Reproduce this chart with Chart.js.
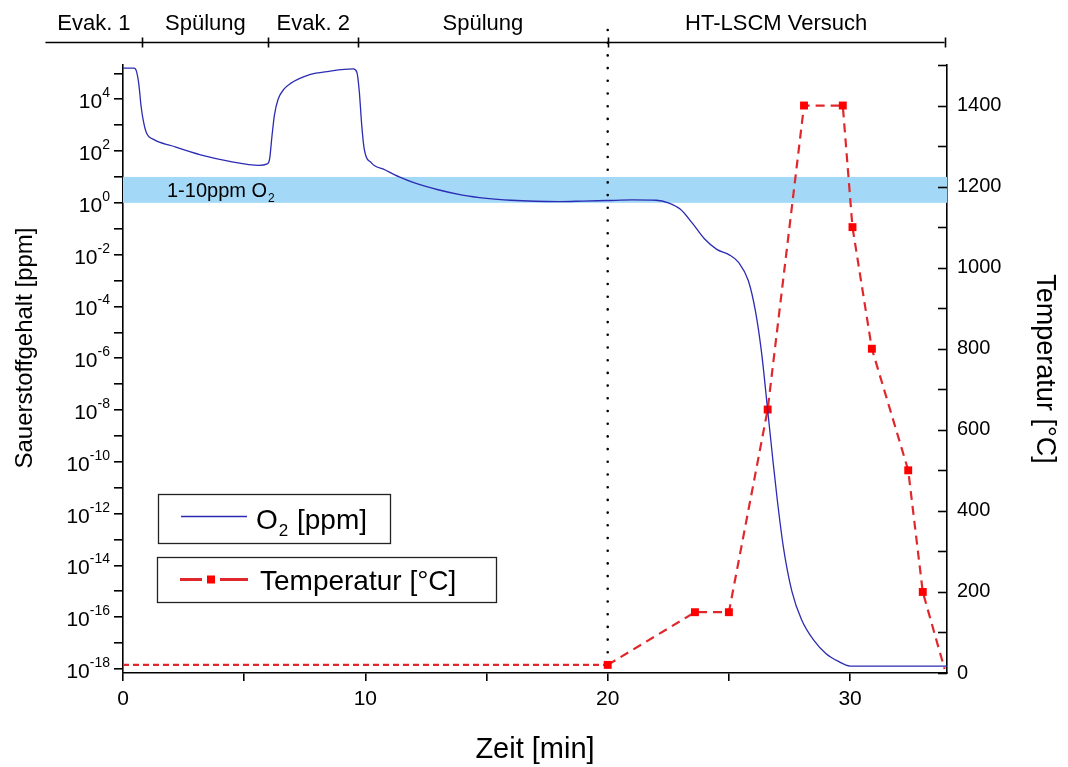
<!DOCTYPE html>
<html><head><meta charset="utf-8">
<script src="https://cdn.jsdelivr.net/npm/chart.js@4.4.1/dist/chart.umd.min.js"></script>
<style>html,body{margin:0;padding:0;background:#fff}#wrap{width:1068px;height:767px}</style>
</head><body><div id="wrap"><canvas id="c" width="1068" height="767"></canvas></div>
<script>
// ---------- data ----------
const o2Time = [0, 0.45, 0.55, 0.65, 0.75, 0.85, 0.97, 1.3, 2.0, 3.2, 4.4, 5.6, 5.95, 6.05, 6.15, 6.25, 6.4, 6.65, 6.9, 7.7, 8.5, 9.5, 9.65, 9.75, 9.85, 9.95, 10.25, 10.8, 11.4, 12.0, 13.0, 14.0, 15.0, 16.0, 17.0, 18.0, 19.0, 20.0, 21.0, 22.0, 22.5, 23.0, 23.5, 24.0, 24.5, 25.0, 25.4, 25.8, 26.1, 26.35, 26.6, 26.8, 27.0, 27.25, 27.6, 28.0, 28.5, 29.0, 29.5, 30.0, 34.0];
const o2Ppm = [1.6e5, 1.6e5, 1.25e5, 4.0e4, 5.0e3, 1.3e3, 5.0e2, 2.7e2, 1.6e2, 71, 40, 28, 32, 50, 400, 2.5e3, 1.0e4, 2.5e4, 4.0e4, 8.9e4, 1.2e5, 1.48e5, 1.1e5, 2.0e4, 1.0e3, 126, 35, 19, 10, 6.0, 3.2, 2.0, 1.5, 1.26, 1.15, 1.12, 1.17, 1.23, 1.29, 1.26, 1.0, 0.56, 0.16, 0.04, 0.016, 0.01, 0.005, 1e-3, 6.3e-5, 1.6e-6, 1.0e-8, 1.6e-10, 3.2e-12, 5e-14, 1e-15, 8e-17, 1.3e-17, 4e-18, 2e-18, 1.3e-18, 1.3e-18];

const tempTime = [0, 20, 23.6, 25.0, 26.6, 28.1, 29.7, 30.1, 30.9, 32.4, 33.0, 33.9];
const tempC    = [20, 20, 150, 150, 650, 1400, 1400, 1100, 800, 500, 200, 10];
const tempHasMarker = [false, true, true, true, true, true, true, true, true, true, true, false];

const phaseBounds = [-3.2, 0.8, 6.0, 9.7, 20, 33.9];
const phaseLabels = ['Evak. 1', 'Spülung', 'Evak. 2', 'Spülung', 'HT-LSCM Versuch'];
const testStart = 20;
const bandRange = [1, 10];
const bandLabel = '1-10ppm O₂';

const xTicks = [0, 5, 10, 15, 20, 25, 30];
const xLabelTicks = [0, 10, 20, 30];
const o2Decades = [-18,-17,-16,-15,-14,-13,-12,-11,-10,-9,-8,-7,-6,-5,-4,-3,-2,-1,0,1,2,3,4,5];
const tempTicks = [0,100,200,300,400,500,600,700,800,900,1000,1100,1200,1300,1400,1500];
const tempLabelStep = 200;

const labelO2 = 'O₂ [ppm]';
const labelTemp = 'Temperatur [°C]';
const titleX = 'Zeit [min]';
const titleY = 'Sauerstoffgehalt [ppm]';
const titleY2 = 'Temperatur [°C]';

// ---------- helpers ----------
const FONT = "'Liberation Sans', Arial, Helvetica, sans-serif";
const SUP = {'0':'⁰','1':'¹','2':'²','3':'³','4':'⁴','5':'⁵','6':'⁶','7':'⁷','8':'⁸','9':'⁹','-':'⁻'};
const toSup = n => String(n).split('').map(c => SUP[c]).join('');

function drawSubText(ctx, text, x, y, size) {
  const parts = text.split('₂');
  let cx = x;
  ctx.textBaseline = 'alphabetic';
  ctx.textAlign = 'left';
  parts.forEach((p, i) => {
    ctx.font = size + 'px ' + FONT;
    ctx.fillText(p, cx, y);
    cx += ctx.measureText(p).width;
    if (i < parts.length - 1) {
      const s = Math.round(size * 0.62);
      ctx.font = s + 'px ' + FONT;
      ctx.fillText('2', cx + 1, y + size * 0.28);
      cx += ctx.measureText('2').width + 2;
    }
  });
}

const decorPlugin = {
  id: 'decor',
  beforeDatasetsDraw(chart) {
    const {ctx, chartArea: a, scales} = chart;
    const y = scales.y, x = scales.x;
    const yTop = y.getPixelForValue(bandRange[1]);
    const yBot = y.getPixelForValue(bandRange[0]);
    ctx.save();
    ctx.fillStyle = '#a3d9f7';
    ctx.fillRect(a.left, yTop, a.right - a.left, yBot - yTop);
    ctx.fillStyle = '#000';
    drawSubText(ctx, bandLabel, a.left + 44, (yTop + yBot) / 2 + 7, 20);
    const xs = x.getPixelForValue(testStart);
    ctx.strokeStyle = '#000';
    ctx.lineWidth = 2.6;
    ctx.lineCap = 'round';
    ctx.setLineDash([0, 12.7]);
    ctx.beginPath();
    ctx.moveTo(xs, 30);
    ctx.lineTo(xs, a.bottom - 4);
    ctx.stroke();
    ctx.restore();
  },
  afterDraw(chart) {
    const {ctx, chartArea: a, scales} = chart;
    const x = scales.x, y = scales.y, y2 = scales.y2;
    ctx.save();
    // left axis title (placed as in the reference, slightly above centre)
    ctx.save();
    ctx.translate(25, 348);
    ctx.rotate(-Math.PI / 2);
    ctx.font = '24px ' + FONT;
    ctx.fillStyle = '#000';
    ctx.textAlign = 'center';
    ctx.textBaseline = 'middle';
    ctx.fillText(titleY, 0, 0);
    ctx.restore();
    // left tick labels with true superscript exponents
    ctx.fillStyle = '#000';
    ctx.textAlign = 'right';
    ctx.textBaseline = 'alphabetic';
    y.ticks.forEach(t => {
      const e = Math.round(Math.log10(t.value));
      if (e % 2 !== 0) return;
      const py = y.getPixelForValue(t.value);
      const right = a.left - 13;
      ctx.font = '14px ' + FONT;
      const exp = String(e);
      const ew = ctx.measureText(exp).width;
      ctx.fillText(exp, right, py - 2);
      ctx.font = '21px ' + FONT;
      ctx.fillText('10', right - ew, py + 9);
    });
    // inward ticks of the right axis
    ctx.strokeStyle = '#000';
    ctx.lineWidth = 1.6;
    y2.ticks.forEach(t => {
      const py = Math.round(y2.getPixelForValue(t.value)) + 0.5;
      ctx.beginPath();
      ctx.moveTo(a.right, py);
      ctx.lineTo(a.right - 9, py);
      ctx.stroke();
    });
    // phase bar on top
    const barY = 42.5;
    const px = phaseBounds.map(v => x.getPixelForValue(v));
    ctx.beginPath();
    ctx.moveTo(px[0], barY);
    ctx.lineTo(px[px.length - 1], barY);
    ctx.stroke();
    px.slice(1).forEach(p => {
      ctx.beginPath();
      ctx.moveTo(Math.round(p) + 0.5, barY - 5);
      ctx.lineTo(Math.round(p) + 0.5, barY + 5);
      ctx.stroke();
    });
    ctx.fillStyle = '#000';
    ctx.font = '22px ' + FONT;
    ctx.textAlign = 'center';
    ctx.textBaseline = 'middle';
    phaseLabels.forEach((l, i) => {
      ctx.fillText(l, (px[i] + px[i + 1]) / 2, 24);
    });
    // legend boxes
    const boxes = [
      {x: 158, y: 494, w: 232, h: 49},
      {x: 157, y: 557, w: 339, h: 45}
    ];
    chart.data.datasets.forEach((ds, i) => {
      const b = boxes[i];
      ctx.fillStyle = '#fff';
      ctx.fillRect(b.x, b.y, b.w, b.h);
      ctx.strokeStyle = '#222';
      ctx.lineWidth = 1.3;
      ctx.setLineDash([]);
      ctx.strokeRect(b.x + 0.5, b.y + 0.5, b.w, b.h);
      const cy = b.y + b.h / 2;
      ctx.strokeStyle = ds.borderColor;
      if (i === 0) {
        ctx.lineWidth = 1.3;
        ctx.beginPath(); ctx.moveTo(181, cy - 2); ctx.lineTo(247, cy - 2); ctx.stroke();
      } else {
        ctx.lineWidth = 3;
        ctx.beginPath(); ctx.moveTo(180, cy); ctx.lineTo(202, cy); ctx.stroke();
        ctx.beginPath(); ctx.moveTo(220, cy); ctx.lineTo(248, cy); ctx.stroke();
        ctx.fillStyle = ds.pointBackgroundColor;
        ctx.fillRect(207, cy - 4, 8, 8);
      }
      ctx.fillStyle = '#000';
      drawSubText(ctx, ds.label, i === 0 ? 256 : 260, cy + 10, 28);
    });
    ctx.restore();
  }
};

const o2Points = o2Time.map((t, i) => ({x: t, y: o2Ppm[i]}));
const tempPoints = tempTime.map((t, i) => ({x: t, y: tempC[i]}));

new Chart(document.getElementById('c'), {
  type: 'line',
  data: {
    datasets: [
      {
        label: labelO2,
        data: o2Points,
        yAxisID: 'y',
        borderColor: '#2b2bb3',
        borderWidth: 1.3,
        pointRadius: 0,
        cubicInterpolationMode: 'monotone',
        fill: false
      },
      {
        label: labelTemp,
        data: tempPoints,
        yAxisID: 'y2',
        borderColor: '#e0282c',
        borderWidth: 2.2,
        borderDash: [9, 6],
        segment: { borderDash: c => c.p0DataIndex === 0 ? [6, 4] : [9, 6] },
        pointStyle: 'rect',
        pointRadius: tempHasMarker.map(m => m ? 5.6 : 0),
        pointBackgroundColor: '#ff0000',
        pointBorderWidth: 0,
        tension: 0,
        fill: false
      }
    ]
  },
  options: {
    responsive: false,
    animation: false,
    layout: { padding: { top: 65, left: 0, right: 0, bottom: 0 } },
    plugins: { legend: { display: false }, tooltip: { enabled: false }, title: { display: false } },
    scales: {
      x: {
        type: 'linear', position: 'bottom', min: 0, max: 34,
        afterBuildTicks: s => { s.ticks = xTicks.map(v => ({value: v})); },
        afterFit: s => { s.height = 94; },
        ticks: {
          color: '#000', font: {family: FONT, size: 21}, padding: 6, maxRotation: 0,
          autoSkip: false,
          callback: v => xLabelTicks.includes(v) ? String(v) : ''
        },
        grid: { drawOnChartArea: false, drawTicks: true, tickLength: 8, color: '#000', lineWidth: 1.6 },
        border: { display: true, color: '#000', width: 1.6 },
        title: { display: true, text: titleX, color: '#000', font: {family: FONT, size: 29}, padding: {top: 0, bottom: 0} }
      },
      y: {
        type: 'logarithmic', position: 'left', min: 7.0e-19, max: 2.1e5,
        afterBuildTicks: s => { s.ticks = o2Decades.map(e => ({value: Math.pow(10, e)})); },
        afterFit: s => { s.width = 123; },
        ticks: {
          color: 'rgba(0,0,0,0)', font: {family: FONT, size: 20}, padding: 4, autoSkip: false,
          callback: v => { const e = Math.round(Math.log10(v)); return e % 2 === 0 ? '10' + toSup(e) : ''; }
        },
        grid: { drawOnChartArea: false, drawTicks: true, tickLength: 9, color: '#000', lineWidth: 1.6 },
        border: { display: true, color: '#000', width: 1.6 },
        title: { display: false, text: titleY }
      },
      y2: {
        type: 'linear', position: 'right', min: 0, max: 1500,
        afterBuildTicks: s => { s.ticks = tempTicks.map(v => ({value: v})); },
        afterFit: s => { s.width = 121; },
        ticks: {
          color: '#000', font: {family: FONT, size: 20}, padding: 10, autoSkip: false,
          callback: v => (v % tempLabelStep === 0 && v < 1500) ? String(v) : ''
        },
        grid: { drawOnChartArea: false, drawTicks: false, color: '#000' },
        border: { display: true, color: '#000', width: 1.6 },
        title: { display: true, text: titleY2, color: '#000', font: {family: FONT, size: 27}, padding: {top: 7, bottom: 0} }
      }
    }
  },
  plugins: [decorPlugin]
});
</script>
</body></html>
